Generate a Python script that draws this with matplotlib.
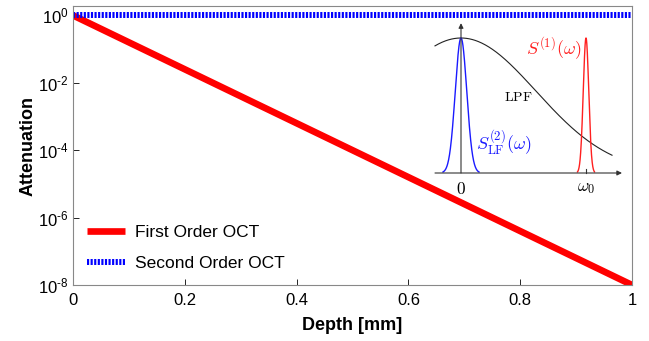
import numpy as np
import matplotlib
matplotlib.use("Agg")
import matplotlib.pyplot as plt

# ---- data ----
depth = [0.0, 1.0]
first_order = [1.0, 1e-8]
second_order = [1.0, 1.0]
xticks = [0, 0.2, 0.4, 0.6, 0.8, 1]
xtick_labels = ["0", "0.2", "0.4", "0.6", "0.8", "1"]
yticks = [1e0, 1e-2, 1e-4, 1e-6, 1e-8]
ytick_labels = [r"$10^{0}$", r"$10^{\text{-}2}$", r"$10^{\text{-}4}$",
                r"$10^{\text{-}6}$", r"$10^{\text{-}8}$"]

# inset schematic (arbitrary units)
omega0 = 5.0
lpf_sigma = 3.0
s2_sigma = 0.23
s1_sigma = 0.11

plt.rcParams["font.family"] = ["Liberation Sans", "DejaVu Sans"]
plt.rcParams["mathtext.fontset"] = "custom"
plt.rcParams["mathtext.rm"] = "Liberation Sans"
plt.rcParams["mathtext.it"] = "Liberation Sans:italic"
plt.rcParams["mathtext.bf"] = "Liberation Sans:bold"

W, H = 649, 341
fig = plt.figure(figsize=(W / 100, H / 100), dpi=100)

def fr(x0, y0, x1, y1):
    return [x0 / W, 1 - y1 / H, (x1 - x0) / W, (y1 - y0) / H]

ax = fig.add_axes(fr(73, 6, 632, 285))
ax.plot(depth, first_order, color="red", lw=4.8, solid_capstyle="butt",
        label="First Order OCT")
ax.plot(depth, second_order, color="#0000ff", lw=4.3, dashes=(0.36, 0.24),
        dash_capstyle="butt", label="Second Order OCT")
ax.set_yscale("log")
ax.set_xlim(0, 1)
ax.set_ylim(1e-8, 1.9)
ax.set_xticks(xticks)
ax.set_xticklabels(xtick_labels)
ax.set_yticks(yticks)
ax.set_yticklabels(ytick_labels)
ax.minorticks_off()
ax.tick_params(direction="in", length=4, width=0.6, labelsize=12,
               colors="#000000")
ax.tick_params(axis="x", pad=6)
ax.tick_params(axis="y", pad=3)
for s in ax.spines.values():
    s.set_color("#888888")
    s.set_linewidth(0.8)
ax.set_xlabel("Depth [mm]", fontsize=13, fontweight="bold", labelpad=6)
ax.set_ylabel("Attenuation", fontsize=13, fontweight="bold", labelpad=1)
leg = ax.legend(loc="lower left", frameon=False, fontsize=12.5,
                handlelength=2.2, handletextpad=0.6, labelspacing=0.9,
                borderaxespad=0.0, bbox_to_anchor=(0.012, 0.025))

# ---- inset ----
ix0, ix1 = 430, 628
iy_top, iy_base = 20, 173
upx = 25.0  # px per unit
xl = (ix0 - 461) / upx
xr = (ix1 - 461) / upx
ytop = (iy_base - iy_top) / 135.0
ins = fig.add_axes(fr(ix0, iy_top, ix1, iy_base))
ins.set_xlim(xl, xr)
ins.set_ylim(0, ytop)
ins.axis("off")
ins.patch.set_alpha(0)

xw = np.linspace(-1.04, 6.04, 300)
ins.plot(xw, np.exp(-xw**2 / (2 * lpf_sigma**2)), color="#222222", lw=0.8,
         clip_on=False)
xb = np.linspace(-0.72, 0.72, 200)
ins.plot(xb, np.exp(-xb**2 / (2 * s2_sigma**2)), color="#1a1aff", lw=1.0,
         clip_on=False)
xr_ = np.linspace(omega0 - 0.34, omega0 + 0.34, 200)
ins.plot(xr_, np.exp(-(xr_ - omega0)**2 / (2 * s1_sigma**2)), color="#ff2020",
         lw=1.0, clip_on=False)

ins.annotate("", xy=(6.44, 0), xytext=(-1.04, 0), annotation_clip=False,
             arrowprops=dict(arrowstyle="-|>", color="#333333", lw=0.8,
                             mutation_scale=7, shrinkA=0, shrinkB=0))
ins.annotate("", xy=(0, 1.11), xytext=(0, 0), annotation_clip=False,
             arrowprops=dict(arrowstyle="-|>", color="#333333", lw=0.8,
                             mutation_scale=7, shrinkA=0, shrinkB=0))
ins.plot([omega0, omega0], [0, 0.03], color="#333333", lw=0.8, clip_on=False)

ins.text(0, -0.06, r"$0$", ha="center", va="top", fontsize=12.5,
         math_fontfamily="cm", clip_on=False)
ins.text(omega0, -0.06, r"$\omega_0$", ha="center", va="top", fontsize=12.5,
         math_fontfamily="cm", clip_on=False)
ins.text(2.3, 0.56, r"$\mathrm{LPF}$", ha="center", va="center", fontsize=10,
         math_fontfamily="cm")
ins.text(3.7, 0.92, r"$S^{(1)}(\omega)$", ha="center", va="center",
         fontsize=13, color="#ff2020", math_fontfamily="cm")
ins.text(1.7, 0.22, r"$S^{(2)}_{\rm LF}(\omega)$", ha="center", va="center",
         fontsize=13, color="#1a1aff", math_fontfamily="cm")

fig.savefig("out.png", dpi=100)
